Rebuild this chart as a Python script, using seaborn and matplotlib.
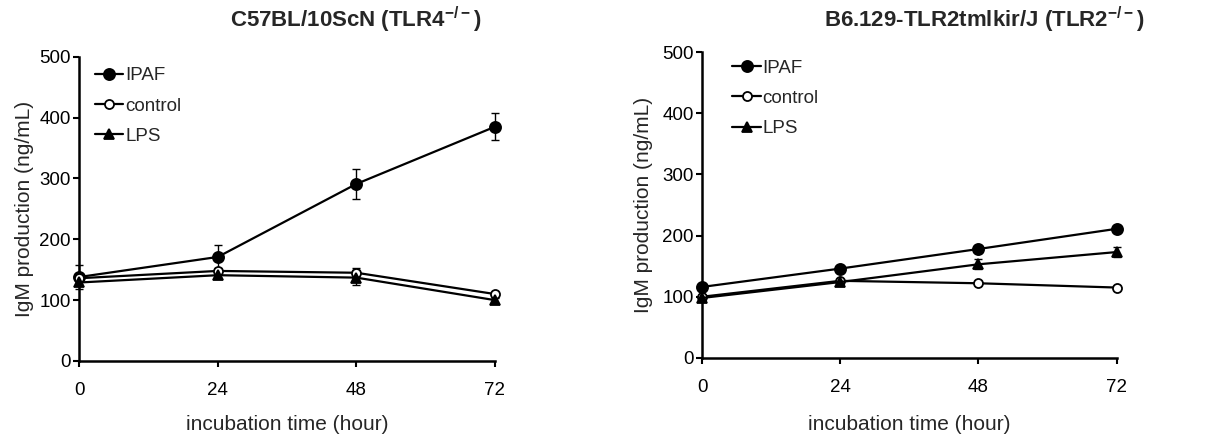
import matplotlib
matplotlib.use("Agg")
import matplotlib.pyplot as plt
import numpy as np
import pandas as pd
import seaborn as sns

hours = [0, 24, 48, 72]
series_names = ["IPAF", "control", "LPS"]

# left panel: C57BL/10ScN (TLR4-/-)
tlr4_ipaf = [138, 171, 291, 385]
tlr4_ipaf_err = [20, 20, 24, 22]
tlr4_control = [136, 148, 145, 110]
tlr4_control_err = [4, 4, 8, 4]
tlr4_lps = [129, 141, 137, 100]
tlr4_lps_err = [4, 4, 12, 4]

# right panel: B6.129-TLR2tmlkir/J (TLR2-/-)
tlr2_ipaf = [116, 146, 178, 211]
tlr2_ipaf_err = [3, 3, 3, 3]
tlr2_control = [100, 126, 122, 115]
tlr2_control_err = [2, 2, 2, 2]
tlr2_lps = [98, 124, 153, 173]
tlr2_lps_err = [3, 3, 8, 8]

titles = ["C57BL/10ScN (TLR4$^{-/-}$)", "B6.129-TLR2tmlkir/J (TLR2$^{-/-}$)"]

sns.set_style("ticks")
plt.rcParams["font.family"] = ["Liberation Sans", "DejaVu Sans"]
plt.rcParams["mathtext.default"] = "regular"
plt.rcParams["mathtext.fontset"] = "custom"
plt.rcParams["mathtext.rm"] = "Liberation Sans:bold"
plt.rcParams["mathtext.bf"] = "Liberation Sans:bold"

marker_map = {"IPAF": "o", "control": "o", "LPS": "^"}
face_map = {"IPAF": "black", "control": "white", "LPS": "black"}
size_map = {"IPAF": 8, "control": 6.5, "LPS": 7}


def make_df(vals, errs):
	rows = []
	for name, v, e in zip(series_names, vals, errs):
		for h, y, err in zip(hours, v, e):
			rows.append({"hour": h, "IgM": y, "err": err, "group": name})
	return pd.DataFrame(rows)


def draw_panel(ax, df, title, title_x, title_y, leg_anchor, xpad, ypad):
	for name in series_names:
		sub = df[df["group"] == name]
		ax.errorbar(sub["hour"], sub["IgM"], yerr=sub["err"], fmt="none",
			ecolor="black", elinewidth=1, capsize=3, clip_on=False, zorder=2)
		sns.lineplot(data=sub, x="hour", y="IgM", ax=ax, color="black",
			marker=marker_map[name], markerfacecolor=face_map[name],
			markeredgecolor="black", markeredgewidth=1.3, markersize=size_map[name],
			linewidth=1.6, label=name, clip_on=False, zorder=3)
	ax.set_xlim(0, 72)
	ax.set_ylim(0, 500)
	ax.set_xticks(hours)
	ax.set_yticks([0, 100, 200, 300, 400, 500])
	ax.tick_params(axis="both", labelsize=13.5, width=1.5, length=4, colors="black")
	ax.tick_params(axis="x", pad=11)
	ax.tick_params(axis="y", pad=2)
	for s in ["left", "bottom"]:
		ax.spines[s].set_linewidth(1.8)
		ax.spines[s].set_color("black")
	sns.despine(ax=ax)
	ax.set_xlabel("incubation time (hour)", fontsize=15, labelpad=xpad)
	ax.set_ylabel("IgM production (ng/mL)", fontsize=15, labelpad=ypad)
	ax.text(title_x, title_y, title, transform=ax.transAxes, ha="center", va="center",
		fontsize=16, fontweight="bold")
	ax.legend(loc="upper left", frameon=False, fontsize=13.5, handlelength=1.5,
		handletextpad=0.1, labelspacing=0.7, borderaxespad=0.0,
		bbox_to_anchor=leg_anchor)


fig = plt.figure(figsize=(12.19, 4.37), dpi=100)
ax1 = fig.add_axes([0.065, 0.174, 0.341, 0.696])
ax2 = fig.add_axes([0.576, 0.181, 0.340, 0.700])

df1 = make_df([tlr4_ipaf, tlr4_control, tlr4_lps], [tlr4_ipaf_err, tlr4_control_err, tlr4_lps_err])
df2 = make_df([tlr2_ipaf, tlr2_control, tlr2_lps], [tlr2_ipaf_err, tlr2_control_err, tlr2_lps_err])

draw_panel(ax1, df1, titles[0], 0.665, 1.12, (0.02, 0.99), 12, 4)
draw_panel(ax2, df2, titles[1], 0.68, 1.105, (0.055, 1.0), 14, 7)

fig.savefig("out.png", dpi=100)
